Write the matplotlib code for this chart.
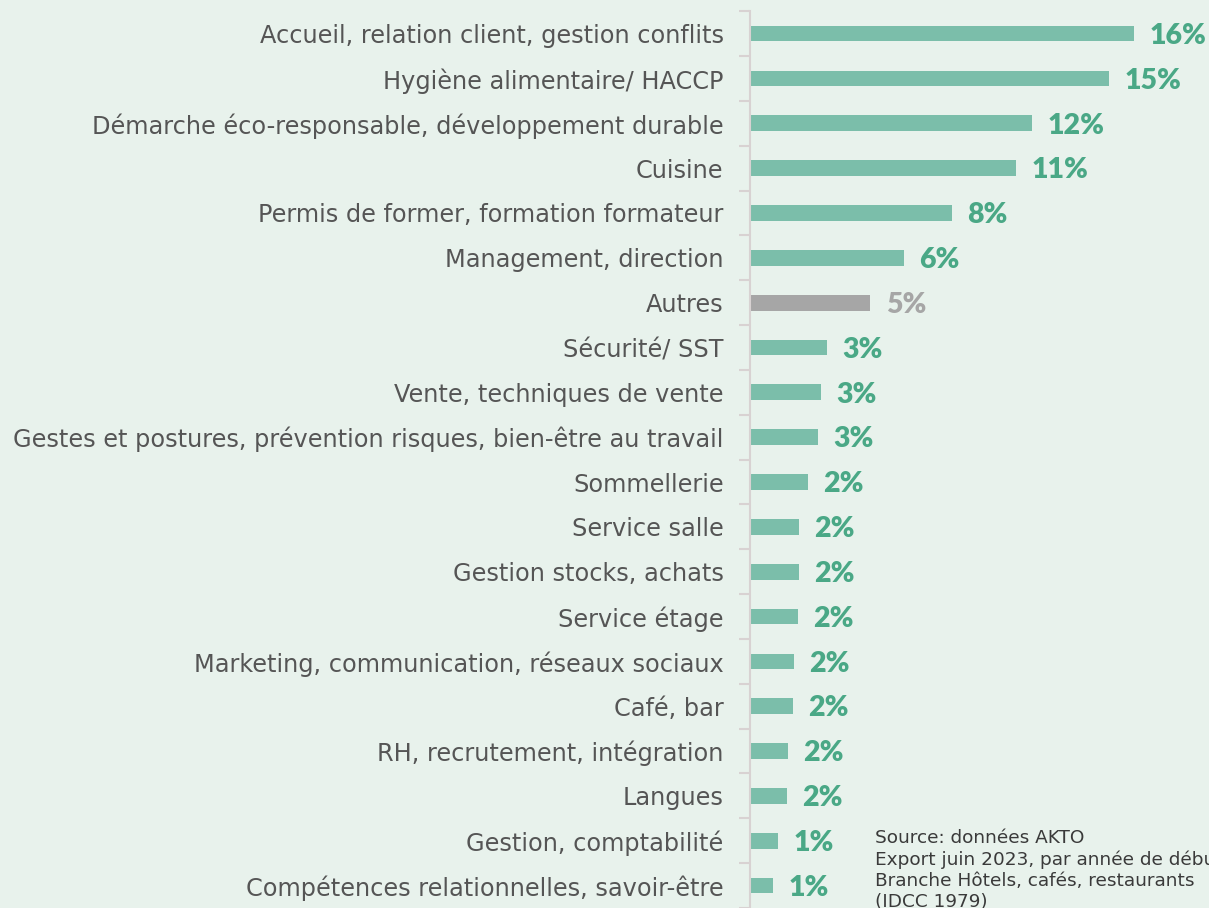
import matplotlib
matplotlib.use("Agg")
import matplotlib.pyplot as plt

# training themes, share of trainings
categories = [
    "Accueil, relation client, gestion conflits",
    "Hygiène alimentaire/ HACCP",
    "Démarche éco-responsable, développement durable",
    "Cuisine",
    "Permis de former, formation formateur",
    "Management, direction",
    "Autres",
    "Sécurité/ SST",
    "Vente, techniques de vente",
    "Gestes et postures, prévention risques, bien-être au travail",
    "Sommellerie",
    "Service salle",
    "Gestion stocks, achats",
    "Service étage",
    "Marketing, communication, réseaux sociaux",
    "Café, bar",
    "RH, recrutement, intégration",
    "Langues",
    "Gestion, comptabilité",
    "Compétences relationnelles, savoir-être",
]
values = [16.0, 14.96, 11.75, 11.1, 8.4, 6.4, 5.0, 3.2, 2.96, 2.83,
          2.4, 2.04, 2.04, 2.0, 1.83, 1.79, 1.58, 1.54, 1.17, 0.96]
source = ("Source: données AKTO\n"
          "Export juin 2023, par année de début\n"
          "Branche Hôtels, cafés, restaurants\n"
          "(IDCC 1979)")

bg = "#e8f2ec"
green = "#7bbeaa"
green_txt = "#4aa886"
grey = "#a6a6a6"

fig = plt.figure(figsize=(12.09, 9.08), dpi=100, facecolor=bg)
ax = fig.add_axes([0.6203, 0, 0.3797, 1])
ax.set_facecolor(bg)

y = list(range(len(categories)))
colors = [grey if c == "Autres" else green for c in categories]
ax.barh(y, values, height=0.35, color=colors)

for yi, v, c in zip(y, values, colors):
    tc = "#a6a6a6" if c == grey else green_txt
    ax.text(v + 0.65, yi + 0.05, f"{round(v)}%", va="center", ha="left",
            fontsize=20.5, fontweight="heavy", color=tc, family="Lato")

ax.set_xlim(0, 19.125)
ax.set_ylim(19.29, -0.75)

for s in ["top", "right", "bottom"]:
    ax.spines[s].set_visible(False)
ax.spines["left"].set_color("#d8d2d2")
ax.spines["left"].set_linewidth(1.5)
ax.spines["left"].set_bounds(-0.5, 19.5)
ax.set_xticks([])

# category labels on major ticks, separators on minor ticks
ax.set_yticks(y)
ax.set_yticklabels(categories, fontsize=17.3, color="#555555", family="DejaVu Sans")
ax.tick_params(axis="y", which="major", length=0, pad=19)
ax.set_yticks([i - 0.5 for i in range(len(categories) + 1)], minor=True)
ax.tick_params(axis="y", which="minor", length=8, width=1.5, color="#d8d2d2")

# source note, cut at the right edge as in the original
fig.text(875 / 1209, 1 - 829 / 908, source, ha="left", va="top",
         fontsize=13.3, color="#3a3a3a", family="DejaVu Sans", linespacing=1.22)

fig.savefig("out.png", dpi=100, facecolor=bg)
